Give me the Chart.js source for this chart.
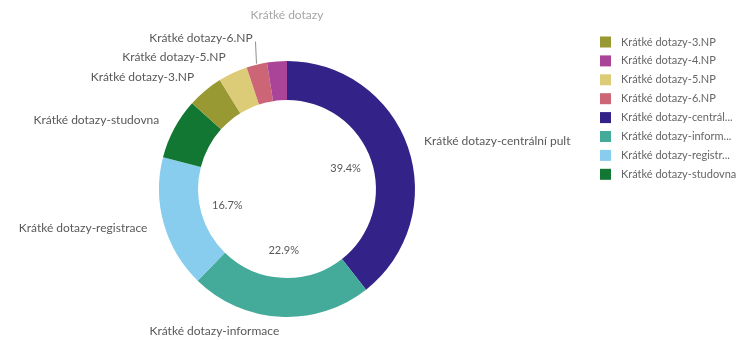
<!DOCTYPE html>
<html>
<head>
<meta charset="utf-8">
<script src="https://cdn.jsdelivr.net/npm/chart.js@4.4.1/dist/chart.umd.min.js"></script>
<style>
    body { margin: 0; background: #fff; }
    #wrap { width: 739px; height: 340px; }
</style>
</head>
<body>
<div id="wrap"><canvas id="graf-dotazy" width="739" height="340"></canvas></div>
<script>
// Krátké dotazy - podíl podle místa (v %)
const kategorie = [
    'Krátké dotazy-centrální pult',
    'Krátké dotazy-informace',
    'Krátké dotazy-registrace',
    'Krátké dotazy-studovna',
    'Krátké dotazy-3.NP',
    'Krátké dotazy-5.NP',
    'Krátké dotazy-6.NP',
    'Krátké dotazy-4.NP'
];
// popisky u výsečí (nejmenší se zkracuje)
const popisky = [
    'Krátké dotazy-centrální pult',
    'Krátké dotazy-informace',
    'Krátké dotazy-registrace',
    'Krátké dotazy-studovna',
    'Krátké dotazy-3.NP',
    'Krátké dotazy-5.NP',
    'Krátké dotazy-6.NP',
    'Krátké dotazy'
];
const hodnoty = [39.4, 22.9, 16.7, 7.7, 4.5, 3.7, 2.6, 2.5];
const barvy = ['#332288', '#44aa99', '#88ccee', '#117733', '#999933', '#ddcc77', '#cc6677', '#aa4499'];

const FONT = 'Lato, "Open Sans", sans-serif';

// zkrátí text na šířku, s "..." na konci
function zkratit(ctx, text, maxW, maxWZkr) {
    if (ctx.measureText(text).width <= maxW) return text;
    while (text.length && ctx.measureText(text + '...').width > maxWZkr) text = text.slice(0, -1);
    return text + '...';
}

const popiskyPlugin = {
    id: 'popisky',
    afterDraw(chart) {
        const ctx = chart.ctx;
        const meta = chart.getDatasetMeta(0);
        const celkem = hodnoty.reduce((a, b) => a + b, 0);
        const R = 145;

        const polozky = meta.data.map((arc, i) => {
            const p = arc.getProps(['x', 'y', 'startAngle', 'endAngle', 'outerRadius', 'innerRadius'], true);
            const mid = (p.startAngle + p.endAngle) / 2;
            const dx = Math.cos(mid), dy = Math.sin(mid);
            let ly = p.y + dy * R;
            if (ly > 331) ly = 331;
            return { i, p, dx, dy, lx: p.x + dx * R, ly, puvodniY: ly, vlevo: dx < 0 };
        });

        // Procenta uvnitř (jen velké výseče)
        ctx.save();
        ctx.font = '11px ' + FONT;
        ctx.fillStyle = '#595959';
        ctx.textAlign = 'center';
        ctx.textBaseline = 'middle';
        polozky.forEach(o => {
            const pct = hodnoty[o.i] / celkem * 100;
            if (pct < 10) return;
            ctx.fillText(pct.toFixed(1) + '%', o.p.x + o.dx * 62, o.p.y + o.dy * 62);
        });
        ctx.restore();

        // Kolize popisků vlevo - odspodu nahoru
        const vlevo = polozky.filter(o => o.vlevo).sort((a, b) => b.ly - a.ly);
        for (let k = 1; k < vlevo.length; k++) {
            if (vlevo[k].ly > vlevo[k - 1].ly - 19) vlevo[k].ly = vlevo[k - 1].ly - 19;
        }

        ctx.save();
        ctx.font = '12px ' + FONT;
        ctx.textBaseline = 'middle';
        polozky.forEach(o => {
            const posunuto = Math.abs(o.ly - o.puvodniY) > 0.5;
            if (posunuto && Math.abs(o.dx) < 0.12) {
                // úplně nahoře - vycentrovat
                ctx.fillStyle = '#a6a6a6';
                ctx.textAlign = 'center';
                ctx.fillText(popisky[o.i], o.p.x, o.ly - 4);
                return;
            }
            ctx.fillStyle = '#595959';
            ctx.textAlign = o.vlevo ? 'right' : 'left';
            ctx.fillText(popisky[o.i], o.lx, o.ly);
            if (posunuto) {
                const ax = o.p.x + o.dx * (o.p.outerRadius + 1);
                const ay = o.p.y + o.dy * (o.p.outerRadius + 1);
                ctx.strokeStyle = '#8c8c8c';
                ctx.lineWidth = 1;
                ctx.beginPath();
                ctx.moveTo(ax, ay);
                ctx.lineTo(ax - 1, o.ly + 3);
                ctx.stroke();
            }
        });
        ctx.restore();

        // Legenda vpravo (abecedně)
        const poradi = kategorie.map((k, i) => i).sort((a, b) => kategorie[a].localeCompare(kategorie[b]));
        ctx.save();
        ctx.font = '11px ' + FONT;
        ctx.textBaseline = 'middle';
        ctx.textAlign = 'left';
        poradi.forEach((i, r) => {
            const y = 42 + r * 18.9;
            ctx.fillStyle = barvy[i];
            ctx.fillRect(600, y - 5.5, 11, 11);
            ctx.fillStyle = '#666666';
            ctx.fillText(zkratit(ctx, kategorie[i], 117, 113), 621, y);
        });
        ctx.restore();
    }
};

new Chart(document.getElementById('graf-dotazy').getContext('2d'), {
    type: 'doughnut',
    data: {
        labels: kategorie,
        datasets: [{
            data: hodnoty,
            backgroundColor: barvy,
            borderWidth: 0
        }]
    },
    options: {
        responsive: false,
        animation: false,
        cutout: '69.5%',
        layout: { padding: { left: 159, right: 324, top: 61, bottom: 23 } },
        plugins: {
            legend: { display: false },
            tooltip: { enabled: false }
        }
    },
    plugins: [popiskyPlugin]
});
</script>
</body>
</html>
